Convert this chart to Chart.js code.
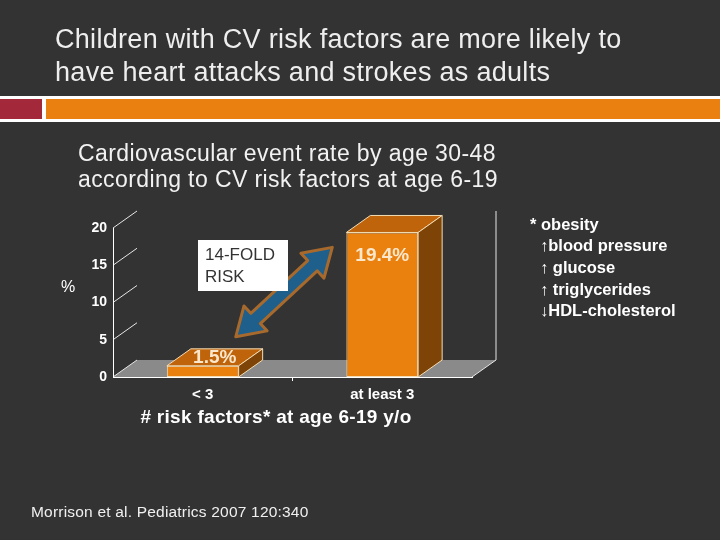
<!DOCTYPE html>
<html>
<head>
<meta charset="utf-8">
<script src="https://cdn.jsdelivr.net/npm/chart.js@4"></script>
<style>
  html, body { margin: 0; padding: 0; background: #333333; }
  canvas { display: block; }
</style>
</head>
<body>
<canvas id="slideChart" width="720" height="540"></canvas>
<script>
const categories = ["< 3", "at least 3"];
const eventRate = [1.5, 19.4];
const rateLabels = ["1.5%", "19.4%"];
const yTicks = [0, 5, 10, 15, 20];
const slideTitle = ["Children with CV risk factors are more likely to", "have heart attacks and strokes as adults"];
const chartTitle = ["Cardiovascular event rate by age 30-48", "according to CV risk factors at age 6-19"];
const riskNotes = ["* obesity", "\u2191blood pressure", "\u2191 glucose", "\u2191 triglycerides", "\u2193HDL-cholesterol"];
const xTitle = "# risk factors* at age 6-19 y/o";
const citation = "Morrison et al. Pediatrics 2007 120:340";

const FONT = '"Liberation Sans", Arial, sans-serif';
const dx = 24, dy = -17; // 3d depth offset

function poly(ctx, pts, fill, stroke) {
  ctx.beginPath();
  ctx.moveTo(pts[0][0], pts[0][1]);
  for (let i = 1; i < pts.length; i++) ctx.lineTo(pts[i][0], pts[i][1]);
  ctx.closePath();
  if (fill) { ctx.fillStyle = fill; ctx.fill(); }
  if (stroke) { ctx.strokeStyle = stroke; ctx.lineWidth = 1; ctx.stroke(); }
}

function line(ctx, x1, y1, x2, y2, color) {
  ctx.beginPath();
  ctx.moveTo(x1, y1);
  ctx.lineTo(x2, y2);
  ctx.strokeStyle = color;
  ctx.lineWidth = 1;
  ctx.stroke();
}

// slide background, header, floor of the 3d chart
const slideBack = {
  id: "slideBack",
  beforeDraw(chart) {
    const { ctx, chartArea: a, scales } = chart;
    const y = scales.y;
    ctx.save();
    ctx.fillStyle = "#333333";
    ctx.fillRect(0, 0, chart.width, chart.height);

    // header text
    ctx.fillStyle = "#eeeeee";
    ctx.font = "27px " + FONT;
    ctx.letterSpacing = "0.3px";
    ctx.textBaseline = "middle";
    ctx.fillText(slideTitle[0], 55, 41);
    ctx.fillText(slideTitle[1], 55, 74);

    // stripes
    ctx.fillStyle = "#ffffff";
    ctx.fillRect(0, 96, 720, 26);
    ctx.fillStyle = "#a3283a";
    ctx.fillRect(0, 99, 42, 20);
    ctx.fillStyle = "#ea800f";
    ctx.fillRect(46, 99, 674, 20);
    ctx.fillStyle = "#333333";
    ctx.fillRect(0, 122, 720, 4);

    // chart title
    ctx.fillStyle = "#f2f2f2";
    ctx.font = "23px " + FONT;
    ctx.letterSpacing = "0.4px";
    ctx.fillText(chartTitle[0], 78, 155);
    ctx.fillText(chartTitle[1], 78, 181);
    ctx.letterSpacing = "0px";

    // floor
    const y0 = y.getPixelForValue(0);
    poly(ctx, [[a.left, y0], [a.left + dx, y0 + dy], [a.right + dx, y0 + dy], [a.right, y0]], "#8a8a8a");

    // diagonal stubs from the axis
    y.ticks.forEach(t => {
      const py = y.getPixelForValue(t.value);
      line(ctx, a.left, py, a.left + dx, py + dy, "#e6e6e6");
    });
    // right edge of the box
    const yTop = y.getPixelForValue(y.max);
    line(ctx, a.right, y0, a.right + dx, y0 + dy, "#e6e6e6");
    line(ctx, a.right + dx, y0 + dy, a.right + dx, yTop + dy, "#e6e6e6");
    ctx.restore();
  },
  afterDraw(chart) {
    const { ctx, chartArea: a, scales } = chart;
    const x = scales.x, y = scales.y;
    const y0 = y.getPixelForValue(0);
    ctx.save();
    // front edge of floor + middle tick
    line(ctx, a.left, y0 + 0.5, a.right, y0 + 0.5, "#ffffff");
    const xm = (x.getPixelForValue(0) + x.getPixelForValue(1)) / 2;
    line(ctx, xm, y0, xm, y0 + 4, "#ffffff");

    ctx.fillStyle = "#ffffff";
    ctx.textBaseline = "middle";
    ctx.font = "16px " + FONT;
    ctx.textAlign = "center";
    ctx.fillText("%", 68, 288);

    ctx.font = "bold 19px " + FONT;
    ctx.letterSpacing = "0.3px";
    ctx.fillText(xTitle, 276, 418);
    ctx.letterSpacing = "0px";

    ctx.textAlign = "left";
    ctx.font = "bold 16.5px " + FONT;
    riskNotes.forEach((t, i) => {
      ctx.fillText(t, i === 0 ? 530 : 540, 225 + i * 21.7);
    });

    ctx.font = "15.5px " + FONT;
    ctx.letterSpacing = "0.2px";
    ctx.fillStyle = "#f0f0f0";
    ctx.fillText(citation, 31, 513);
    ctx.restore();
  }
};

// 3d faces of the bars, value labels, fold-risk annotation
const bars3d = {
  id: "bars3d",
  afterDatasetsDraw(chart) {
    const { ctx, scales } = chart;
    const y = scales.y;
    const meta = chart.getDatasetMeta(0);
    ctx.save();
    meta.data.forEach((bar, i) => {
      const p = bar.getProps(["x", "y", "base", "width"], true);
      const l = p.x - p.width / 2, r = p.x + p.width / 2;
      poly(ctx, [[l, p.y], [l + dx, p.y + dy], [r + dx, p.y + dy], [r, p.y]], "#c0640c", "#f3dcb3");
      poly(ctx, [[r, p.y], [r + dx, p.y + dy], [r + dx, p.base + dy], [r, p.base]], "#7e4306", "#f3dcb3");

      ctx.fillStyle = "#fbe8cc";
      ctx.font = "bold 19px " + FONT;
      ctx.textAlign = "center";
      ctx.textBaseline = "middle";
      if (p.base - p.y < 40) {
        ctx.fillText(rateLabels[i], p.x + dx / 2, p.y + dy / 2);
      } else {
        ctx.fillText(rateLabels[i], p.x, p.y + 23);
      }
    });

    // double arrow between the bars
    const b1 = meta.data[0], b2 = meta.data[1];
    const sx = b1.x + 33, sy = y.getPixelForValue(5.4);
    const ex = b2.x - 50, ey = y.getPixelForValue(17.4);
    const ang = Math.atan2(ey - sy, ex - sx);
    const len = Math.hypot(ex - sx, ey - sy);
    const head = 27, hw = 17, sw = 7;
    ctx.translate(sx, sy);
    ctx.rotate(ang);
    ctx.beginPath();
    ctx.moveTo(0, 0);
    ctx.lineTo(head, -hw);
    ctx.lineTo(head, -sw);
    ctx.lineTo(len - head, -sw);
    ctx.lineTo(len - head, -hw);
    ctx.lineTo(len, 0);
    ctx.lineTo(len - head, hw);
    ctx.lineTo(len - head, sw);
    ctx.lineTo(head, sw);
    ctx.lineTo(head, hw);
    ctx.closePath();
    ctx.fillStyle = "#1e5f8c";
    ctx.fill();
    ctx.strokeStyle = "#a86a2c";
    ctx.lineWidth = 3;
    ctx.lineJoin = "round";
    ctx.stroke();
    ctx.setTransform(1, 0, 0, 1, 0, 0);

    // 14-fold box
    ctx.fillStyle = "#ffffff";
    ctx.fillRect(198, 240, 90, 51);
    ctx.fillStyle = "#333333";
    ctx.font = "17px " + FONT;
    ctx.textAlign = "left";
    ctx.textBaseline = "middle";
    ctx.fillText("14-FOLD", 205, 255);
    ctx.fillText("RISK", 205, 277);
    ctx.restore();
  }
};

new Chart(document.getElementById("slideChart").getContext("2d"), {
  type: "bar",
  data: {
    labels: categories,
    datasets: [{
      data: eventRate,
      backgroundColor: "#ea800e",
      borderColor: "#f3dcb3",
      borderWidth: 1,
      borderSkipped: false,
      categoryPercentage: 1,
      barPercentage: 0.4
    }]
  },
  options: {
    responsive: false,
    animation: false,
    layout: { padding: { left: 60, right: 248, top: 228, bottom: 133 } },
    plugins: { legend: { display: false }, tooltip: { enabled: false } },
    scales: {
      x: {
        afterFit(s) { s.height = 30; },
        grid: { display: false, drawTicks: false },
        border: { display: true, color: "#ffffff", width: 1 },
        ticks: { color: "#ffffff", padding: 9, font: { family: FONT, size: 15, weight: "bold" } }
      },
      y: {
        min: 0,
        max: 20,
        afterFit(s) { s.width = 53; },
        afterBuildTicks(s) { s.ticks = yTicks.map(v => ({ value: v })); },
        grid: { display: false, drawTicks: false },
        border: { display: true, color: "#ffffff", width: 1 },
        ticks: { color: "#ffffff", padding: 6, font: { family: FONT, size: 14, weight: "bold" } }
      }
    }
  },
  plugins: [slideBack, bars3d]
});
</script>
</body>
</html>
